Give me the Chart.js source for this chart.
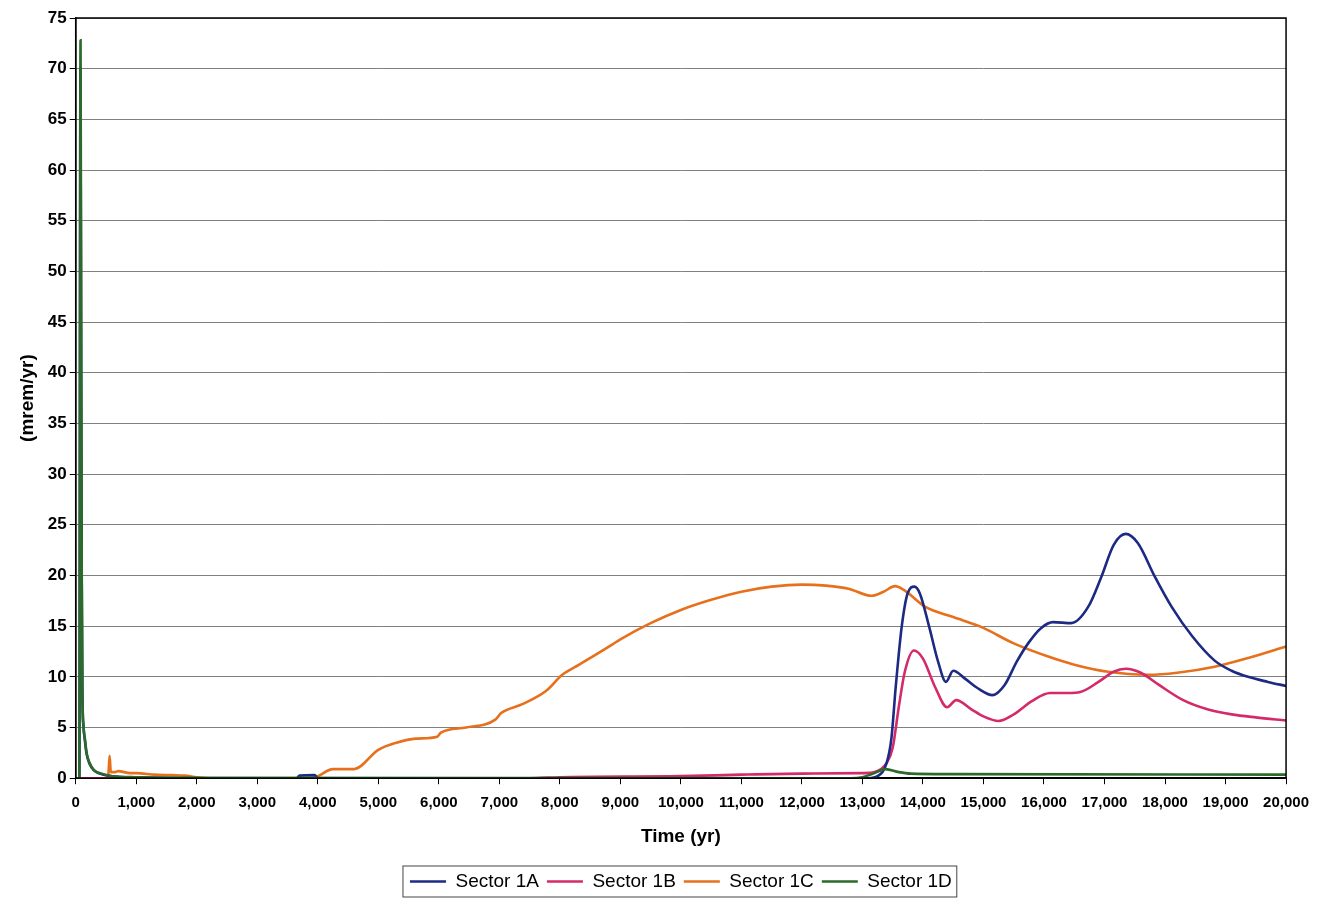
<!DOCTYPE html>
<html>
<head>
<meta charset="utf-8">
<script src="https://cdn.jsdelivr.net/npm/chart.js@4.4.1/dist/chart.umd.min.js"></script>
<style>
  html, body { margin: 0; padding: 0; background: #fff; }
  #wrap { width: 1319px; height: 898px; position: relative; }
</style>
</head>
<body>
<div id="wrap"><canvas id="graphique" width="1319" height="898"></canvas></div>
<script>
// dose rate per sector (mrem/yr) against time (yr)
var timeA = [0, 60, 78, 90, 100, 110, 130, 150, 180, 230, 300, 400, 600, 1000, 2000, 3650, 3700, 3950, 4000, 13100, 13250, 13400, 13480, 13550, 13650, 13750, 13860, 13950, 14100, 14250, 14380, 14500, 14700, 14900, 15150, 15350, 15550, 15750, 15950, 16150, 16450, 16730, 16950, 17150, 17350, 17550, 17830, 18110, 18450, 18820, 19100, 19370, 19700, 20000]
var doseA = [0, 0, 70, 40, 19, 8.5, 5, 3.8, 2.4, 1.4, 0.8, 0.45, 0.2, 0.08, 0, 0, 0.25, 0.3, 0, 0, 0.2, 1.5, 4, 9, 15, 18.3, 18.9, 18.2, 15, 11.5, 9.5, 10.6, 9.8, 8.9, 8.2, 9.2, 11.5, 13.4, 14.8, 15.4, 15.3, 16.9, 19.9, 23, 24.1, 23.2, 19.9, 16.9, 14.0, 11.6, 10.6, 10.0, 9.5, 9.1]

var timeB = [0, 7500, 8000, 10000, 11000, 12000, 13000, 13200, 13400, 13500, 13600, 13700, 13850, 14000, 14200, 14400, 14550, 14800, 15000, 15250, 15500, 15800, 16100, 16400, 16600, 16900, 17150, 17350, 17600, 17900, 18300, 18700, 19100, 19500, 20000]
var doseB = [0, 0, 0.1, 0.2, 0.35, 0.45, 0.5, 0.6, 1.5, 3, 7, 10.5, 12.6, 11.8, 9, 7.0, 7.7, 6.8, 6.1, 5.65, 6.3, 7.6, 8.4, 8.4, 8.5, 9.5, 10.5, 10.8, 10.4, 9.2, 7.7, 6.8, 6.3, 6.0, 5.7]

var timeC = [0, 500, 540, 560, 580, 650, 700, 900, 1000, 1300, 1600, 1800, 2000, 2200, 3900, 4000, 4250, 4600, 5000, 5300, 5620, 5975, 6035, 6450, 6940, 7025, 7380, 7770, 8040, 8320, 8870, 9000, 9500, 10000, 10500, 11000, 11500, 12000, 12400, 12770, 13150, 13350, 13540, 13700, 14040, 14500, 14970, 15500, 16070, 16500, 17060, 17720, 18200, 18820, 19400, 20000]
var doseC = [0, 0, 0.4, 2.2, 0.6, 0.6, 0.7, 0.5, 0.5, 0.35, 0.3, 0.25, 0.1, 0, 0, 0.2, 0.9, 0.9, 2.8, 3.5, 3.9, 4.1, 4.5, 5.0, 5.8, 6.4, 7.3, 8.6, 10.2, 11.2, 13.2, 13.7, 15.3, 16.6, 17.6, 18.4, 18.9, 19.1, 19.0, 18.7, 18.0, 18.4, 18.95, 18.5, 16.9, 15.9, 14.9, 13.3, 12.0, 11.2, 10.5, 10.2, 10.4, 11.0, 11.9, 13.0]

var timeD = [0, 60, 80, 92, 100, 110, 130, 150, 180, 230, 300, 400, 600, 1000, 2000, 12800, 13000, 13200, 13380, 13600, 13800, 14500, 20000]
var doseD = [0, 0, 72.8, 40, 20, 9, 5, 4, 2.5, 1.5, 0.8, 0.5, 0.2, 0.1, 0.05, 0, 0.1, 0.5, 0.9, 0.6, 0.45, 0.4, 0.35]

var seriesNames = ['Sector 1A', 'Sector 1B', 'Sector 1C', 'Sector 1D']
var seriesColors = ['#1c2a84', '#d42a6a', '#e6701c', '#2b6a2a']

var yTicks = { min: 0, max: 75, step: 5 }
var xTicks = { min: 0, max: 20000, step: 1000 }

function points(t, v) {
    return t.map(function (x, i) { return { x: x, y: v[i] } })
}

var allTimes = [timeA, timeB, timeC, timeD]
var allDoses = [doseA, doseB, doseC, doseD]
// green on top, then blue
var drawOrder = [2, 3, 4, 1]

var datasets = seriesNames.map(function (name, i) {
    return {
        label: name,
        data: points(allTimes[i], allDoses[i]),
        borderColor: seriesColors[i],
        backgroundColor: seriesColors[i],
        borderWidth: 2.6,
        pointRadius: 0,
        pointStyle: 'line',
        cubicInterpolationMode: 'monotone',
        order: drawOrder[i]
    }
})

// center the legend under the plot and nudge it down a little
var legendShift = {
    id: 'legendShift',
    afterUpdate: function (chart) {
        var L = chart.legend, a = chart.chartArea
        var dx = (a.left + a.right) / 2 - (L.left + L.right) / 2
        var dy = 3
        L.left += dx
        L.right += dx
        L.top += dy
        L.bottom += dy
        L.legendHitBoxes.forEach(function (b) {
            b.left += dx
            b.top += dy
        })
    }
}

// frame round the plot area and round the legend
var framePlugin = {
    id: 'frames',
    afterDraw: function (chart) {
        var c = chart.ctx, a = chart.chartArea
        c.save()
        c.strokeStyle = '#000'
        c.lineWidth = 1.5
        c.strokeRect(a.left, a.top, a.right - a.left, a.bottom - a.top)
        var boxes = chart.legend.legendHitBoxes
        if (boxes && boxes.length) {
            var l = Math.min.apply(null, boxes.map(function (b) { return b.left }))
            var r = Math.max.apply(null, boxes.map(function (b) { return b.left + b.width }))
            var t = boxes[0].top, h = boxes[0].height
            c.lineWidth = 1
            c.strokeStyle = '#444'
            c.strokeRect(l - 7, t - 6, r - l + 12, h + 12)
        }
        c.restore()
    }
}

var font = 'Liberation Sans, Arial'
var ctx = document.getElementById('graphique')
var lineChart = new Chart(ctx, {
    type: 'line',
    data: { datasets: datasets },
    plugins: [legendShift, framePlugin],
    options: {
        responsive: false,
        animation: false,
        layout: { padding: { top: 18, right: 29, left: 16, bottom: 0 } },
        plugins: {
            tooltip: { enabled: false },
            legend: {
                position: 'bottom',
                labels: {
                    usePointStyle: true,
                    pointStyleWidth: 36,
                    padding: 8,
                    color: '#000',
                    font: { family: font, size: 19 },
                    sort: function (a, b) { return a.datasetIndex - b.datasetIndex }
                }
            }
        },
        scales: {
            x: {
                type: 'linear',
                min: xTicks.min,
                max: xTicks.max,
                ticks: {
                    stepSize: xTicks.step,
                    maxRotation: 0,
                    autoSkip: false,
                    padding: 10,
                    color: '#000',
                    font: { family: font, size: 15, weight: 'bold' },
                    callback: function (v) { return v.toLocaleString('en-US') }
                },
                grid: { drawOnChartArea: false, drawTicks: true, tickLength: 6, color: '#000' },
                border: { color: '#000', width: 1.5 },
                title: {
                    display: true,
                    text: 'Time (yr)',
                    color: '#000',
                    font: { family: font, size: 19, weight: 'bold' },
                    padding: { top: 3, bottom: 13 }
                }
            },
            y: {
                min: yTicks.min,
                max: yTicks.max,
                ticks: {
                    stepSize: yTicks.step,
                    color: '#000',
                    font: { family: font, size: 17, weight: 'bold' }
                },
                grid: { color: '#808080', lineWidth: 1, tickLength: 6, tickColor: '#000' },
                border: { color: '#000', width: 1.5 },
                title: {
                    display: true,
                    text: '(mrem/yr)',
                    color: '#000',
                    font: { family: font, size: 19, weight: 'bold' },
                    padding: { top: 0, bottom: 6 }
                }
            }
        }
    }
})
</script>
</body>
</html>
